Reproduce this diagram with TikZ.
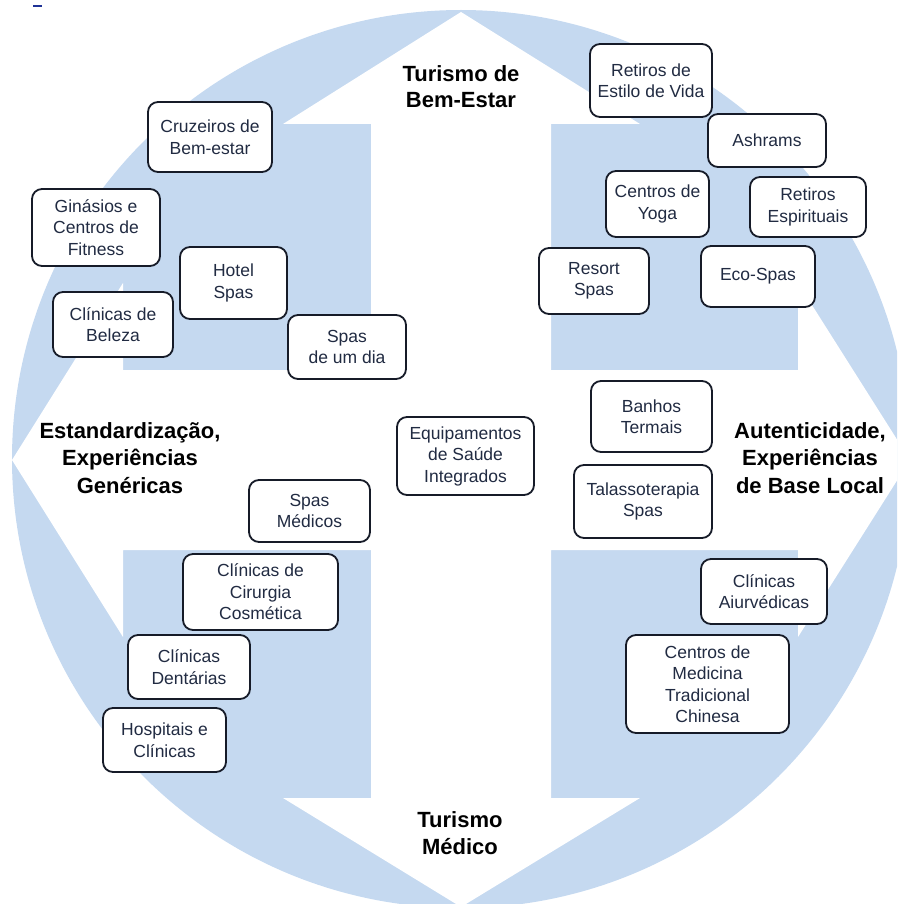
\documentclass[tikz,border=0pt]{standalone}
\usepackage{fontspec}
\setmainfont{Liberation Sans}
\definecolor{wheelblue}{RGB}{197,217,240}
\definecolor{boxline}{RGB}{22,27,40}
\definecolor{boxtext}{RGB}{33,43,66}
\definecolor{markblue}{RGB}{30,50,150}

\begin{document}
\begin{tikzpicture}[x=1pt,y=-1pt,
  item/.style 2 args={draw=boxline, line width=1.8pt, rounded corners=10pt,
    fill=white, text=boxtext, align=center, inner sep=1pt,
    minimum width=#1, minimum height=#2,
    font=\fontsize{17.5}{21.5}\selectfont},
  head/.style={anchor=base, inner sep=0pt, text=black,
    font=\fontsize{22}{27}\selectfont\bfseries}]

\useasboundingbox (0,0) rectangle (897,904);

% blue disc with the white four-way arrow cut out of it
\begin{scope}
  \clip (0,0) rectangle (897,904);
  \fill[wheelblue] (461,459) circle[radius=449pt];
  \fill[white] (461,12) -- (640,124) -- (551,124) -- (551,370) -- (798,370)
    -- (798,283) -- (910,460) -- (798,637) -- (798,550) -- (551,550)
    -- (551,798) -- (640,798) -- (461,907) -- (283,798) -- (371,798)
    -- (371,550) -- (123,550) -- (123,637) -- (12,460) -- (123,283)
    -- (123,370) -- (371,370) -- (371,124) -- (283,124) -- cycle;
\end{scope}
\fill[markblue] (33,5.5) rectangle (42,7.5);

% axis labels
\node[head] (w1) at (461,82)  {Turismo de};
\node[head] (w2) at (461,108) {Bem-Estar};
\node[head] (m1) at (460,827) {Turismo};
\node[head] (m2) at (460,854) {Médico};
\node[head] (s1) at (130,438) {Estandardização,};
\node[head] (s2) at (130,465) {Experiências};
\node[head] (s3) at (130,493) {Genéricas};
\node[head] (a1) at (810,438) {Autenticidade,};
\node[head] (a2) at (810,465) {Experiências};
\node[head] (a3) at (810,493) {de Base Local};

% upper-left quadrant
\node[item={124pt}{70pt}] (cruz)   at (210,137)   {Cruzeiros de\\Bem-estar};
\node[item={128pt}{77pt}] (gin)    at (96,227.5)  {Ginásios e\\Centros de\\Fitness};
\node[item={107pt}{72pt}] (hotel)  at (233.5,283) {Hotel\\Spas};
\node[item={120pt}{65pt}] (bel)    at (113,324.5) {Clínicas de\\Beleza};
\node[item={118pt}{64pt}] (dia)    at (347,347)   {Spas\\de um dia};

% centre
\node[item={137pt}{78pt}] (equip)  at (465.5,456) {Equipamentos\\de Saúde\\Integrados};

% upper-right quadrant
\node[item={122pt}{73pt}] (estilo) at (651,80.5)  {Retiros de\\Estilo de Vida};
\node[item={118pt}{53pt}] (ash)    at (767,140.5) {Ashrams};
\node[item={103pt}{66pt}] (yoga)   at (657.5,204) {Centros de\\Yoga};
\node[item={116pt}{60pt}] (espir)  at (808,207)   {Retiros\\Espirituais};
\node[item={110pt}{66pt}] (resort) at (594,281)   {Resort\\Spas};
\node[item={114pt}{61pt}] (eco)    at (758,276.5) {Eco-Spas};

% right side
\node[item={121pt}{71pt}] (banhos) at (651.5,416.5) {Banhos\\Termais};
\node[item={138pt}{73pt}] (talas)  at (643,501.5) {Talassoterapia\\Spas};

% lower-left quadrant
\node[item={121pt}{62pt}] (medic)  at (309.5,511) {Spas\\Médicos};
\node[item={155pt}{76pt}] (cirur)  at (260.5,592) {Clínicas de\\Cirurgia\\Cosmética};
\node[item={122pt}{64pt}] (dent)   at (189,667)   {Clínicas\\Dentárias};
\node[item={123pt}{64pt}] (hosp)   at (164.5,740) {Hospitais e\\Clínicas};

% lower-right quadrant
\node[item={126pt}{65pt}] (aiur)   at (764,591.5) {Clínicas\\Aiurvédicas};
\node[item={163pt}{98pt}] (tcm)    at (707.5,684) {Centros de\\Medicina\\Tradicional\\Chinesa};

\end{tikzpicture}
\end{document}
